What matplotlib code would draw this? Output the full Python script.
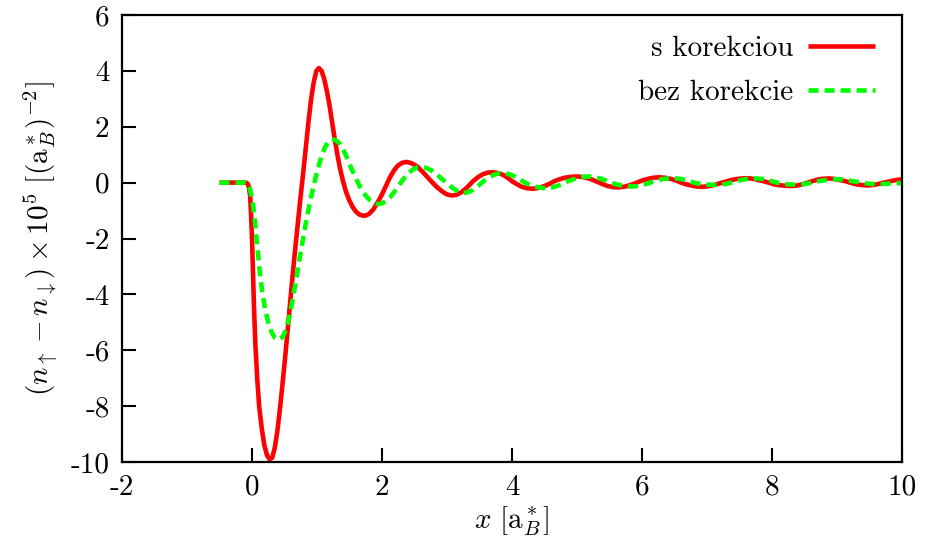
import matplotlib
matplotlib.use("Agg")
import matplotlib.pyplot as plt

plt.rcParams['font.family'] = ['cmr10', 'DejaVu Serif']
plt.rcParams['mathtext.fontset'] = 'cm'
plt.rcParams['axes.unicode_minus'] = False

red_x = [-0.5, -0.1, -0.08, -0.06, -0.045, -0.03, -0.015, 0.0, 0.015, 0.03, 0.05, 0.08,
         0.11, 0.15, 0.19, 0.23, 0.27, 0.31, 0.35, 0.39, 0.43, 0.47, 0.51, 0.55, 0.59,
         0.63, 0.67, 0.71, 0.75, 0.79, 0.83, 0.87, 0.91, 0.95, 0.99, 1.03, 1.07, 1.11,
         1.15, 1.19, 1.23, 1.27, 1.31, 1.35, 1.40, 1.45, 1.50, 1.55, 1.60, 1.65, 1.70,
         1.75, 1.80, 1.86, 1.93, 2.0, 2.06, 2.12, 2.18, 2.24, 2.31, 2.38, 2.45, 2.54,
         2.64, 2.74, 2.84, 2.94, 3.0, 3.07, 3.14, 3.22, 3.31, 3.4, 3.48, 3.55, 3.63, 3.71,
         3.79, 3.87, 3.94, 4.0, 4.08, 4.15, 4.23, 4.32, 4.41, 4.5, 4.58, 4.65, 4.73, 4.82,
         4.91, 5.0, 5.09, 5.17, 5.25, 5.32, 5.4, 5.47, 5.55, 5.63, 5.72, 5.8, 5.88, 5.95,
         6.02, 6.1, 6.19, 6.28, 6.37, 6.45, 6.53, 6.6, 6.68, 6.77, 6.85, 6.94, 7.02, 7.1,
         7.19, 7.28, 7.37, 7.45, 7.54, 7.62, 7.7, 7.78, 7.87, 7.95, 8.02, 8.1, 8.19, 8.28,
         8.37, 8.45, 8.53, 8.6, 8.66, 8.72, 8.8, 8.88, 8.97, 9.05, 9.13, 9.2, 9.26, 9.32,
         9.4, 9.48, 9.57, 9.65, 9.72, 9.8, 9.9, 10.0]
red_y = [0, 0, -0.01, -0.06, -0.2, -0.45, -1.1, -2.0, -3.2, -4.4, -5.7, -7.0,
         -8.0, -8.8, -9.4, -9.75, -9.9, -9.85, -9.5, -8.9, -8.1, -7.2, -6.25, -5.25, -4.2,
         -3.2, -2.25, -1.35, -0.45, 0.4, 1.3, 2.2, 3.0, 3.6, 4.0, 4.1, 4.0, 3.72,
         3.3, 2.8, 2.2, 1.6, 1.05, 0.55, 0.05, -0.35, -0.65, -0.88, -1.04, -1.14, -1.18,
         -1.18, -1.12, -0.98, -0.72, -0.42, -0.12, 0.18, 0.42, 0.6, 0.71, 0.74, 0.7, 0.58,
         0.35, 0.09, -0.15, -0.34, -0.42, -0.46, -0.44, -0.35, -0.17, 0.05, 0.2, 0.3, 0.36, 0.37,
         0.34, 0.27, 0.16, 0.05, -0.06, -0.15, -0.2, -0.22, -0.19, -0.12, -0.04, 0.05, 0.12, 0.18,
         0.21, 0.22, 0.2, 0.16, 0.09, 0.02, -0.06, -0.12, -0.16, -0.17, -0.15, -0.1, -0.04, 0.03,
         0.09, 0.14, 0.18, 0.19, 0.17, 0.13, 0.07, 0.0, -0.06, -0.11, -0.14, -0.15, -0.13, -0.09,
         -0.03, 0.03, 0.09, 0.13, 0.15, 0.16, 0.14, 0.1, 0.05, 0.0, -0.05, -0.09, -0.11, -0.12,
         -0.11, -0.07, -0.02, 0.04, 0.08, 0.12, 0.14, 0.15, 0.13, 0.09, 0.05, 0.0, -0.04, -0.07,
         -0.09, -0.1, -0.08, -0.04, 0.0, 0.04, 0.09, 0.12]

green_x = [-0.5, -0.1, -0.07, -0.04, -0.01, 0.02, 0.05, 0.08, 0.12, 0.16, 0.2, 0.25, 0.3,
           0.35, 0.41, 0.47, 0.52, 0.57, 0.62, 0.67, 0.72, 0.77, 0.82, 0.87, 0.92, 0.97,
           1.02, 1.07, 1.12, 1.17, 1.23, 1.28, 1.34, 1.4, 1.46, 1.52, 1.58, 1.64, 1.7, 1.76,
           1.82, 1.88, 1.94, 2.0, 2.06, 2.12, 2.19, 2.26, 2.33, 2.4, 2.47, 2.54, 2.61, 2.68,
           2.76, 2.84, 2.92, 3.0, 3.08, 3.16, 3.24, 3.32, 3.4, 3.48, 3.56, 3.64, 3.72, 3.8,
           3.88, 3.96, 4.05, 4.12, 4.2, 4.28, 4.37, 4.45, 4.54, 4.62, 4.7, 4.78, 4.85, 4.93,
           5.02, 5.11, 5.2, 5.28, 5.37, 5.45, 5.52, 5.6, 5.7, 5.78, 5.86, 5.94, 6.02, 6.1,
           6.17, 6.25, 6.32, 6.4, 6.48, 6.57, 6.65, 6.72, 6.8, 6.88, 6.97, 7.06, 7.15, 7.22,
           7.3, 7.38, 7.45, 7.52, 7.6, 7.68, 7.77, 7.85, 7.93, 8.0, 8.08, 8.17, 8.25, 8.33,
           8.42, 8.5, 8.58, 8.65, 8.73, 8.82, 8.9, 8.97, 9.05, 9.13, 9.22, 9.3, 9.38, 9.46,
           9.55, 9.62, 9.7, 9.78, 9.85, 9.92, 10.0]
green_y = [0, 0, -0.02, -0.15, -0.45, -0.87, -1.5, -2.25, -3.2, -3.95, -4.5, -5.0, -5.35,
           -5.55, -5.63, -5.53, -5.28, -4.85, -4.25, -3.6, -2.9, -2.2, -1.55, -0.95, -0.4, 0.1,
           0.55, 0.95, 1.25, 1.45, 1.54, 1.53, 1.42, 1.2, 0.9, 0.55, 0.25, -0.05, -0.3, -0.5,
           -0.64, -0.74, -0.77, -0.74, -0.66, -0.54, -0.33, -0.1, 0.13, 0.32, 0.46, 0.54, 0.56, 0.53,
           0.44, 0.3, 0.14, -0.02, -0.18, -0.3, -0.37, -0.35, -0.26, -0.12, 0.05, 0.18, 0.28, 0.33,
           0.34, 0.3, 0.21, 0.11, 0.0, -0.09, -0.15, -0.19, -0.2, -0.17, -0.12, -0.04, 0.04, 0.11,
           0.17, 0.21, 0.22, 0.19, 0.14, 0.07, 0.0, -0.06, -0.11, -0.13, -0.14, -0.12, -0.08, -0.02,
           0.04, 0.09, 0.13, 0.15, 0.16, 0.14, 0.1, 0.05, 0.0, -0.04, -0.06, -0.08, -0.08, -0.07,
           -0.04, 0.0, 0.05, 0.09, 0.13, 0.15, 0.15, 0.13, 0.09, 0.05, 0.0, -0.04, -0.06, -0.07,
           -0.07, -0.05, -0.02, 0.02, 0.06, 0.09, 0.11, 0.12, 0.12, 0.1, 0.06, 0.03, 0.0, -0.03,
           -0.05, -0.06, -0.05, -0.04, -0.03, -0.02, -0.02]

x_ticks = [-2, 0, 2, 4, 6, 8, 10]
y_ticks = [-10, -8, -6, -4, -2, 0, 2, 4, 6]
x_ticklabels = ['-2', '0', '2', '4', '6', '8', '10']
y_ticklabels = ['-10', '-8', '-6', '-4', '-2', '0', '2', '4', '6']

fig = plt.figure(figsize=(9.25, 5.46), dpi=100)
ax = fig.add_axes([122/925, 1 - 462/546, (902-122)/925, (462-15)/546])

ax.plot(red_x, red_y, color='#ff0000', lw=3.3, label='s korekciou',
        solid_joinstyle='round', solid_capstyle='butt')
ax.plot(green_x, green_y, color='#00ff00', lw=3.3, ls=(0, (2.2, 1.3)), label='bez korekcie',
        dash_joinstyle='round')

ax.set_xlim(-2, 10)
ax.set_ylim(-10, 6)
ax.set_xticks(x_ticks)
ax.set_xticklabels(x_ticklabels)
ax.set_yticks(y_ticks)
ax.set_yticklabels(y_ticklabels)
ax.tick_params(direction='in', length=10, width=1.5, labelsize=21, pad=9,
               top=False, right=False)
for s in ax.spines.values():
    s.set_linewidth(1.6)

ax.set_xlabel(r'$x\ [\mathrm{a}_B^*]$', fontsize=21, labelpad=3)
ax.set_ylabel(r'$(n_{\uparrow}-n_{\downarrow})\times 10^5\ [(\mathrm{a}_B^*)^{-2}]$',
              fontsize=21, labelpad=8)

ax.legend(loc='upper right', frameon=False, markerfirst=False, fontsize=21,
          handlelength=2.3, handletextpad=0.5, labelspacing=0.6,
          borderaxespad=0, borderpad=0,
          bbox_to_anchor=(0.9654, 0.954))

fig.savefig('out.png', dpi=100)
